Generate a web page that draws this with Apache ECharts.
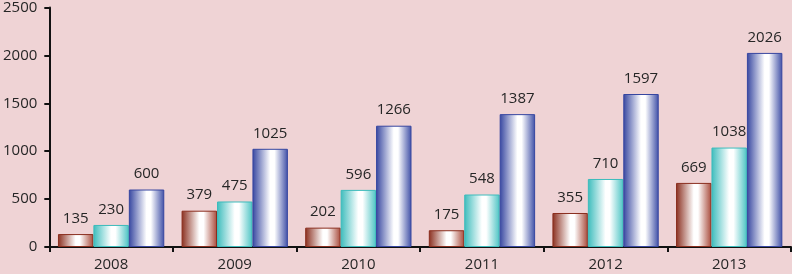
<!DOCTYPE html>
<html><head><meta charset="utf-8">
<script src="https://cdn.jsdelivr.net/npm/echarts@6/dist/echarts.min.js"></script>
<style>html,body{margin:0;padding:0;background:#efd3d5;}#c{width:792px;height:274px;}</style>
</head><body><div id="c"></div>
<script>
const categories = ['2008','2009','2010','2011','2012','2013'];
const seriesA = [135, 379, 202, 175, 355, 669];
const seriesB = [230, 475, 596, 548, 710, 1038];
const seriesC = [600, 1025, 1266, 1387, 1597, 2026];
const yTicks = {min: 0, max: 2500, interval: 500};

function grad(dark, right){
  return {type:'linear', x:0, y:0, x2:1, y2:0, colorStops:[
    {offset:0, color:dark},
    {offset:0.5, color:'#ffffff'},
    {offset:0.62, color:'#ffffff'},
    {offset:1, color:right}
  ]};
}
const fontFam = 'Open Sans, Liberation Sans, sans-serif';
function mk(data, dark, right, border){
  return {type:'bar', data:data, barGap:'0%', barCategoryGap:'14%',
    itemStyle:{color:grad(dark,right), borderColor:border, borderWidth:1},
    label:{show:true, position:'top', distance:8, color:'#262626', fontSize:15, fontFamily:fontFam}
  };
}
const chart = echarts.init(document.getElementById('c'));
chart.setOption({
  backgroundColor:'#efd3d5',
  animation:false,
  grid:{left:48, right:1, top:6, bottom:27, containLabel:false},
  xAxis:{type:'category', data:categories,
    axisLine:{lineStyle:{color:'#111', width:2}},
    axisTick:{show:true, length:5, lineStyle:{color:'#111', width:2}},
    axisLabel:{color:'#262626', fontSize:15, fontFamily:fontFam, margin:10}},
  yAxis:{type:'value', min:yTicks.min, max:yTicks.max, interval:yTicks.interval,
    splitLine:{show:false},
    axisLine:{show:true, lineStyle:{color:'#111', width:2}},
    axisTick:{show:true, length:5, lineStyle:{color:'#111', width:2}},
    axisLabel:{color:'#262626', fontSize:15, fontFamily:fontFam, margin:12, formatter: v => String(v)}},
  series:[
    mk(seriesA, '#8a2e1e', '#a84a3a', '#8a2e1e'),
    mk(seriesB, '#3cbcbc', '#4cc4c4', '#3cbcbc'),
    mk(seriesC, '#3646a0', '#3e4ea6', '#3646a0')
  ]
});
</script></body></html>
